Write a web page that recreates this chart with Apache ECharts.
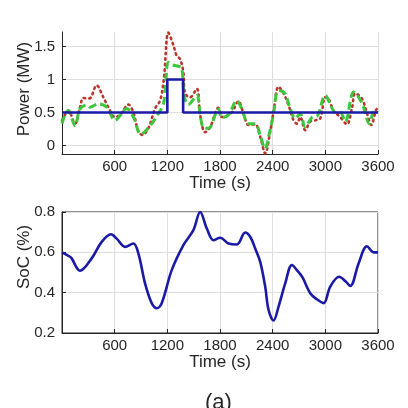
<!DOCTYPE html>
<html><head><meta charset="utf-8">
<script src="https://cdn.jsdelivr.net/npm/echarts@6/dist/echarts.min.js"></script>
<style>html,body{margin:0;padding:0;background:#fff}#c{width:408px;height:408px}</style>
</head><body><div id="c"></div>
<script>
// ---- data ----
const timeTicks = [600, 1200, 1800, 2400, 3000, 3600];
const powerTicks = [0, 0.5, 1, 1.5];
const socTicks = [0.2, 0.4, 0.6, 0.8];

const blueT = [0, 1200, 1200, 1380, 1380, 3600];
const blueV = [0.5, 0.5, 1.0, 1.0, 0.5, 0.5];

const redT = [0, 40, 72, 148, 205, 243, 300, 330, 395, 471, 528, 604, 661, 756, 813, 870, 916, 984, 1060, 1117, 1160, 1212, 1269, 1307, 1345, 1383, 1402, 1459, 1536, 1574, 1631, 1688, 1782, 1821, 1878, 1935, 2011, 2068, 2125, 2201, 2258, 2315, 2372, 2410, 2467, 2524, 2581, 2638, 2676, 2714, 2771, 2828, 2885, 2942, 2999, 3030, 3094, 3170, 3246, 3303, 3341, 3417, 3474, 3523, 3588, 3600];
const redV = [0.38, 0.48, 0.53, 0.33, 0.58, 0.72, 0.71, 0.73, 0.91, 0.73, 0.58, 0.43, 0.46, 0.62, 0.5, 0.21, 0.16, 0.26, 0.56, 0.68, 1.0, 1.71, 1.52, 1.36, 1.31, 1.11, 0.79, 0.73, 0.86, 0.46, 0.2, 0.28, 0.57, 0.43, 0.45, 0.5, 0.67, 0.48, 0.31, 0.32, 0.13, -0.12, 0.21, 0.51, 0.89, 0.79, 0.61, 0.38, 0.33, 0.43, 0.23, 0.36, 0.38, 0.41, 0.73, 0.72, 0.53, 0.43, 0.32, 0.56, 0.79, 0.71, 0.49, 0.31, 0.55, 0.52];

const greenT = [0, 40, 72, 148, 205, 281, 319, 414, 509, 604, 661, 737, 813, 900, 1003, 1098, 1155, 1174, 1212, 1260, 1326, 1364, 1392, 1440, 1536, 1574, 1612, 1669, 1782, 1821, 1900, 1992, 2049, 2125, 2201, 2258, 2315, 2353, 2410, 2448, 2486, 2543, 2600, 2657, 2714, 2771, 2850, 2910, 2999, 3056, 3113, 3170, 3227, 3322, 3379, 3436, 3500, 3560, 3600];
const greenV = [0.33, 0.48, 0.53, 0.3, 0.55, 0.61, 0.58, 0.63, 0.58, 0.38, 0.45, 0.56, 0.43, 0.17, 0.3, 0.48, 0.63, 0.83, 1.26, 1.22, 1.2, 1.18, 0.75, 0.62, 0.76, 0.46, 0.27, 0.26, 0.55, 0.42, 0.47, 0.68, 0.55, 0.33, 0.33, 0.15, -0.05, 0.13, 0.48, 0.81, 0.83, 0.78, 0.56, 0.41, 0.48, 0.28, 0.43, 0.45, 0.76, 0.63, 0.5, 0.5, 0.36, 0.81, 0.73, 0.58, 0.33, 0.53, 0.5];

const socT = [0, 91, 110, 205, 338, 452, 558, 623, 718, 813, 870, 946, 1022, 1079, 1136, 1250, 1383, 1497, 1574, 1650, 1726, 1802, 1897, 1992, 2087, 2144, 2201, 2258, 2315, 2353, 2410, 2467, 2543, 2619, 2676, 2740, 2828, 2904, 2980, 3056, 3158, 3235, 3284, 3379, 3474, 3550, 3600];
const socV = [0.6, 0.578, 0.57, 0.509, 0.57, 0.652, 0.69, 0.668, 0.627, 0.644, 0.595, 0.446, 0.348, 0.323, 0.348, 0.512, 0.636, 0.71, 0.8, 0.718, 0.66, 0.672, 0.644, 0.639, 0.698, 0.677, 0.619, 0.553, 0.43, 0.315, 0.262, 0.331, 0.446, 0.537, 0.512, 0.476, 0.397, 0.367, 0.348, 0.43, 0.479, 0.454, 0.433, 0.545, 0.63, 0.6, 0.6];

const pair = (t, v) => t.map((x, i) => [x, v[i]]);

const FONT = 'Liberation Sans';
const AX = '#262626';
const GRID = '#dedede';

function xAxisCfg(gi) {
  return {
    type: 'value', gridIndex: gi, min: 0, max: 3600, interval: 600,
    name: 'Time (s)', nameLocation: 'middle', nameGap: 20,
    nameTextStyle: {fontFamily: FONT, fontSize: 17, color: AX},
    axisLine: {show: true, onZero: false, lineStyle: {color: AX, width: 1}},
    axisTick: {show: true, inside: true, length: 4, lineStyle: {color: AX}},
    axisLabel: {fontFamily: FONT, fontSize: 15, color: AX, margin: 5,
      formatter: v => timeTicks.includes(v) ? String(v) : ''},
    splitLine: {show: true, lineStyle: {color: GRID, width: 1}}
  };
}

const chart = echarts.init(document.getElementById('c'), null, {renderer: 'canvas'});
chart.setOption({
  animation: false,
  backgroundColor: '#fff',
  grid: [
    {left: 62, top: 32, width: 316, height: 122, show: false},
    {left: 62, top: 212, width: 316, height: 121, show: true, borderColor: AX, borderWidth: 1, backgroundColor: 'transparent'}
  ],
  xAxis: [xAxisCfg(0), xAxisCfg(1)],
  yAxis: [
    {type: 'value', gridIndex: 0, min: -0.13, max: 1.72,
     axisLine: {show: true, onZero: false, lineStyle: {color: AX, width: 1}},
     axisTick: {show: true, inside: true, length: 4, customValues: powerTicks, lineStyle: {color: AX}},
     axisLabel: {fontFamily: FONT, fontSize: 15, color: AX, margin: 7, customValues: powerTicks,
       formatter: v => String(Math.round(v * 10) / 10)},
     splitLine: {show: true, lineStyle: {color: GRID, width: 1}}},
    {type: 'value', gridIndex: 1, min: 0.2, max: 0.8, interval: 0.2,
     axisLine: {show: true, onZero: false, lineStyle: {color: AX, width: 1}},
     axisTick: {show: true, inside: true, length: 4, lineStyle: {color: AX}},
     axisLabel: {fontFamily: FONT, fontSize: 15, color: AX, margin: 7,
       formatter: v => socTicks.some(p => Math.abs(p - v) < 1e-6) ? v.toFixed(1) : ''},
     splitLine: {show: true, lineStyle: {color: GRID, width: 1}}}
  ],
  series: [
    {type: 'line', xAxisIndex: 0, yAxisIndex: 0, data: pair(redT, redV), smooth: 0.35, showSymbol: false,
     lineStyle: {color: '#b9352c', width: 2.6, type: [1.5, 4], cap: 'round'}},
    {type: 'line', xAxisIndex: 0, yAxisIndex: 0, data: pair(greenT, greenV), smooth: 0.35, showSymbol: false,
     lineStyle: {color: '#3cc63c', width: 3, type: [8, 4]}},
    {type: 'line', xAxisIndex: 0, yAxisIndex: 0, data: pair(blueT, blueV), showSymbol: false,
     lineStyle: {color: '#1a1aa6', width: 2.6}},
    {type: 'line', xAxisIndex: 1, yAxisIndex: 1, data: pair(socT, socV), smooth: 0.35, showSymbol: false,
     lineStyle: {color: '#1a1aa6', width: 2.6}}
  ],
  graphic: [
    {type: 'text', x: 24, y: 89, rotation: Math.PI / 2,
     style: {text: 'Power (MW)', fontFamily: FONT, fontSize: 17, fill: AX, align: 'center', verticalAlign: 'middle'}},
    {type: 'text', x: 24, y: 257, rotation: Math.PI / 2,
     style: {text: 'SoC (%)', fontFamily: FONT, fontSize: 17, fill: AX, align: 'center', verticalAlign: 'middle'}},
    {type: 'text', left: 205, top: 392, style: {text: '(a)', fontFamily: FONT, fontSize: 22, fill: AX}}
  ]
});
</script></body></html>
